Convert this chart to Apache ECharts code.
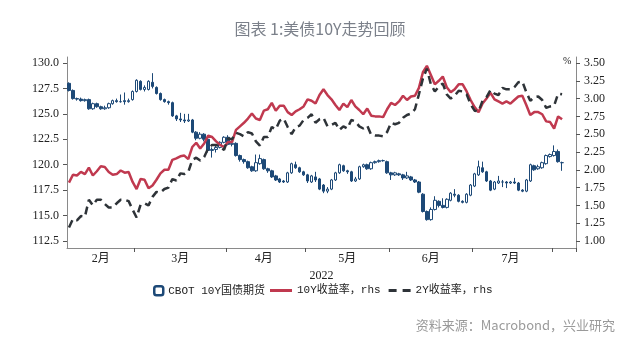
<!DOCTYPE html>
<html><head><meta charset="utf-8">
<script src="https://cdn.jsdelivr.net/npm/echarts@6/dist/echarts.min.js"></script>
<style>html,body{margin:0;padding:0;background:#fff}#c{width:640px;height:348px}</style>
</head><body><div id="c"></div><script>
// trading days (2022)
const febDays=[3,4,7,8,9,10,11,14,15,16,17,18,22,23,24,25,28];
const marDays=[1,2,3,4,7,8,9,10,11,14,15,16,17,18,21,22,23,24,25,28,29,30,31];
const aprDays=[1,4,5,6,7,8,11,12,13,14,18,19,20,21,22,25,26,27,28,29];
const mayDays=[2,3,4,5,6,9,10,11,12,13,16,17,18,19,20,23,24,25,26,27,31];
const junDays=[1,2,3,6,7,8,9,10,13,14,15,16,17,21,22,23,24,27,28,29,30];
const julDays=[1,5,6,7,8,11,12,13,14,15,18,19,20,21,22,25,26,27,28,29];
const augDays=[1,2,3,4,5,8];
const monthNames=['2月','3月','4月','5月','6月','7月','8月'];
const yearLabel='2022';

// CBOT 10Y futures OHLC
const tyOpen=[128.0,127.3,126.5,126.45,126.3,126.4,125.5,126.0,125.7,125.5,125.6,126.0,126.3,126.2,126.3,126.2,126.4,
127.2,128.2,127.4,127.4,128.1,127.6,127.0,126.4,126.2,126.1,124.8,124.5,124.4,124.3,124.4,123.2,122.6,123.0,122.5,121.4,121.5,121.7,122.2,
122.7,122.0,122.1,120.9,120.5,120.3,119.8,119.4,120.1,120.5,119.6,119.4,118.9,118.6,118.4,118.3,119.2,120.0,119.7,119.3,
119.0,118.3,118.8,118.6,118.0,117.4,117.6,118.5,119.2,119.9,119.4,119.3,118.4,118.6,119.8,120.0,119.6,120.2,120.3,120.4,120.3,
119.2,119.0,119.1,119.0,118.7,118.8,118.5,118.3,117.1,115.4,114.6,115.6,116.4,116.0,115.8,116.5,117.1,117.0,116.4,116.3,117.0,
117.9,119.0,119.7,119.3,118.4,117.6,118.2,118.3,118.3,118.2,118.3,118.2,117.5,117.4,118.4,119.9,119.6,119.7,120.1,120.8,
120.9,121.3,120.2];
const tyClose=[127.3,126.5,126.45,126.3,126.4,125.5,126.0,125.7,125.5,125.6,126.0,126.3,126.2,126.2,126.2,126.3,127.2,
128.3,127.4,127.6,128.2,127.7,127.0,126.4,126.2,126.1,124.8,124.5,124.4,124.3,124.4,123.2,122.6,123.0,122.5,121.4,121.5,121.7,122.2,122.7,
122.0,122.1,120.9,120.5,120.3,119.7,119.4,120.2,120.6,119.6,119.4,118.8,118.5,118.3,118.3,119.2,120.1,119.7,119.3,119.0,
118.4,118.9,118.5,117.6,117.4,117.6,118.5,119.2,120.0,119.4,119.3,118.4,118.6,119.8,120.0,119.6,120.2,120.3,120.4,120.4,119.2,
119.0,119.2,119.0,118.7,118.9,118.5,118.3,117.3,115.4,114.6,115.6,116.5,116.0,115.8,116.6,117.2,117.0,116.4,116.3,117.1,118.0,
119.1,119.8,119.3,118.4,117.5,118.3,118.4,118.3,118.2,118.3,118.2,117.5,117.4,118.5,120.0,119.5,119.8,120.2,120.9,121.0,
121.3,120.3,120.2];
const tyLow=[127.2,126.4,126.3,126.2,126.2,125.4,125.4,125.6,125.4,125.4,125.5,125.9,126.1,126.1,125.9,126.1,126.3,
127.1,127.3,127.2,127.3,127.5,126.9,126.3,126.1,125.9,124.7,124.3,124.2,124.1,124.2,123.1,122.4,122.5,122.3,121.2,120.7,121.2,121.6,122.1,
121.9,121.8,120.8,120.3,120.1,119.6,119.3,119.3,120.0,119.5,119.2,118.7,118.4,118.2,118.2,118.2,119.1,119.6,119.2,118.9,
118.2,118.2,118.3,117.5,117.2,117.2,117.5,118.4,119.1,119.3,119.1,118.3,118.3,118.5,119.7,119.5,119.5,120.1,120.2,120.3,119.1,
118.5,118.9,118.9,118.5,118.6,118.4,118.2,117.2,115.3,114.5,114.5,115.5,115.8,115.7,115.7,116.4,116.8,116.3,116.2,116.2,116.9,
117.8,118.9,119.2,118.3,117.4,117.5,118.1,117.8,117.7,118.1,118.1,117.4,117.3,117.3,118.3,119.4,119.5,119.6,120.0,120.7,
120.8,120.2,119.4];
const tyHigh=[128.1,127.4,126.6,126.6,126.5,126.5,126.1,126.1,125.8,125.8,126.1,126.4,126.5,126.9,127.1,126.5,127.3,
128.4,128.3,127.8,128.3,129.0,127.7,127.1,126.5,126.3,126.2,124.9,125.1,125.0,125.0,124.5,123.3,123.2,123.1,122.6,121.7,121.9,122.3,122.8,
122.9,122.3,122.2,121.0,120.6,120.4,119.9,121.0,121.0,120.6,119.7,119.5,119.0,118.7,118.5,119.3,120.2,120.3,119.8,119.4,
119.1,119.0,119.3,118.7,118.1,117.8,118.6,119.3,120.1,120.0,119.5,119.4,118.8,119.9,120.1,120.1,120.3,120.4,120.5,120.5,120.4,
119.3,119.3,119.2,119.1,119.3,118.9,118.6,118.4,117.2,115.5,115.8,116.9,116.5,116.7,116.7,117.3,117.6,117.1,116.5,117.2,118.1,
119.2,120.4,120.3,119.4,118.5,118.4,118.9,118.5,118.4,118.4,118.7,118.3,117.6,118.6,120.1,120.0,120.0,120.3,121.0,121.1,
121.9,121.5,120.3];

// yields (%)
const y10=[1.82,1.93,1.92,1.97,1.94,2.03,1.92,1.98,2.05,2.04,1.97,1.93,1.94,1.99,1.96,1.97,1.83,
1.73,1.87,1.86,1.74,1.78,1.86,1.95,2.00,2.00,2.14,2.16,2.19,2.20,2.15,2.32,2.38,2.30,2.37,2.48,2.46,2.40,2.35,2.32,
2.39,2.39,2.56,2.61,2.66,2.72,2.79,2.72,2.70,2.83,2.85,2.94,2.83,2.90,2.90,2.81,2.77,2.82,2.85,2.89,
2.99,2.97,2.93,3.05,3.13,3.05,2.99,2.91,2.84,2.93,2.88,2.98,2.89,2.84,2.78,2.86,2.76,2.75,2.75,2.74,2.85,
2.94,2.91,2.96,3.04,2.98,3.03,3.04,3.15,3.37,3.46,3.33,3.20,3.25,3.31,3.16,3.09,3.13,3.20,3.20,3.10,2.98,
2.88,2.81,2.93,3.00,3.08,2.99,2.96,2.93,2.96,2.93,2.98,3.03,3.04,2.91,2.77,2.81,2.81,2.78,2.68,2.67,
2.58,2.75,2.71];
const y2=[1.19,1.31,1.29,1.35,1.34,1.58,1.50,1.58,1.58,1.52,1.47,1.47,1.53,1.58,1.58,1.56,1.44,
1.33,1.51,1.53,1.50,1.62,1.69,1.68,1.73,1.75,1.87,1.85,1.95,1.94,1.97,2.14,2.17,2.13,2.18,2.30,2.35,2.35,2.32,2.28,
2.44,2.43,2.52,2.50,2.47,2.53,2.51,2.40,2.34,2.46,2.46,2.60,2.57,2.69,2.72,2.60,2.50,2.60,2.62,2.70,
2.73,2.78,2.66,2.71,2.73,2.61,2.63,2.66,2.56,2.61,2.58,2.70,2.68,2.61,2.58,2.62,2.49,2.48,2.48,2.47,2.53,
2.66,2.64,2.66,2.73,2.77,2.79,2.85,3.06,3.28,3.42,3.20,3.10,3.17,3.21,3.06,3.00,3.04,3.11,3.10,3.06,2.92,
2.83,2.82,2.97,3.02,3.12,3.07,3.05,3.15,3.13,3.13,3.16,3.23,3.24,3.09,2.97,3.02,3.03,2.98,2.87,2.89,
2.90,3.07,3.06];

const leftTicks=[112.5,115.0,117.5,120.0,122.5,125.0,127.5,130.0];
const rightTicks=[1.00,1.25,1.50,1.75,2.00,2.25,2.50,2.75,3.00,3.25,3.50];

const seriesNames=['CBOT 10Y国债期货','10Y收益率，rhs','2Y收益率，rhs'];
const titleText='图表 1:美债10Y走势回顾';
const sourceText='资料来源：Macrobond，兴业研究';

// build categories
const monthLists=[febDays,marDays,aprDays,mayDays,junDays,julDays,augDays];
const cats=[], catMonth=[];
monthLists.forEach((days,m)=>days.forEach(d=>{
  cats.push('2022-'+String(m+2).padStart(2,'0')+'-'+String(d).padStart(2,'0'));
  catMonth.push(m);
}));
const monthFirst={}, monthLast={};
catMonth.forEach((m,i)=>{ if(!(m in monthFirst)) monthFirst[m]=i; monthLast[m]=i; });
const labelIdx={};
for(let m=0;m<6;m++){ labelIdx[Math.floor((monthFirst[m]+monthLast[m])/2)]=monthNames[m]; }
const tickIdx=new Set(); for(let m=1;m<monthLists.length;m++) tickIdx.add(monthFirst[m]);

const candles=tyOpen.map((o,i)=>[o,tyClose[i],tyLow[i],tyHigh[i]]);

const serif='"Liberation Serif","Noto Sans CJK SC",serif';
const mono='"Liberation Mono","Noto Sans CJK SC",monospace';
const axisColor='#8a8a8a';
const navy='#1d4977';
const red='#c0394f';
const dark='#2e3338';

const chart=echarts.init(document.getElementById('c'));
chart.setOption({
  animation:false,
  backgroundColor:'#fff',
  grid:{left:67,right:64,top:57,bottom:100},
  legend:[{
    left:148, top:280, itemWidth:9, itemHeight:9, itemGap:8,
    textStyle:{fontFamily:mono,fontSize:11,color:'#222'},
    data:[{name:seriesNames[0],icon:'roundRect',itemStyle:{color:'#fff',borderColor:navy,borderWidth:2.5}}]
  },{
    left:265, top:280, itemWidth:22, itemHeight:3, itemGap:8,
    textStyle:{fontFamily:mono,fontSize:11,color:'#222'},
    data:[
      {name:seriesNames[1],icon:'rect',itemStyle:{color:red}},
      {name:seriesNames[2],icon:'path://M0,0h8v3h-8zM14,0h8v3h-8z',itemStyle:{color:dark}}
    ]
  }],
  xAxis:{
    type:'category', data:cats, boundaryGap:true,
    name:yearLabel, nameLocation:'middle', nameGap:19,
    nameTextStyle:{fontFamily:serif,fontSize:12,color:'#222'},
    axisLine:{lineStyle:{color:axisColor,width:1}},
    axisTick:{show:true,length:4,interval:(i)=>tickIdx.has(i),lineStyle:{color:'#555'}},
    axisLabel:{interval:0,formatter:(v,i)=>labelIdx[i]||'',fontFamily:serif,fontSize:12,color:'#222',margin:5},
    splitLine:{show:false}
  },
  yAxis:[{
    type:'value', position:'left', min:111.81, max:130.59,
    axisLine:{show:true,lineStyle:{color:axisColor}},
    axisTick:{show:true,length:4,customValues:leftTicks,lineStyle:{color:'#555'}},
    axisLabel:{customValues:leftTicks,formatter:v=>v.toFixed(1),fontFamily:serif,fontSize:12,color:'#222',margin:8},
    splitLine:{show:false}
  },{
    type:'value', position:'right', min:0.902, max:3.584,
    axisLine:{show:true,lineStyle:{color:axisColor}},
    axisTick:{show:true,length:4,customValues:rightTicks,lineStyle:{color:'#555'}},
    axisLabel:{customValues:rightTicks,formatter:v=>v.toFixed(2),fontFamily:serif,fontSize:12,color:'#222',margin:8},
    splitLine:{show:false}
  }],
  series:[{
    name:seriesNames[0], type:'candlestick', yAxisIndex:0, data:candles, barWidth:3,
    itemStyle:{color:'#fff',color0:navy,borderColor:navy,borderColor0:navy,borderWidth:1}
  },{
    name:seriesNames[1], type:'line', yAxisIndex:1, data:y10, symbol:'none', z:3,
    itemStyle:{color:red}, lineStyle:{color:red,width:2.5}
  },{
    name:seriesNames[2], type:'line', yAxisIndex:1, data:y2, symbol:'none', z:3,
    itemStyle:{color:dark}, lineStyle:{color:dark,width:2.5,type:[8,5]}
  }],
  graphic:[
    {type:'text',left:'center',top:21,style:{text:titleText,font:'16px "Noto Sans CJK SC",sans-serif',fill:'#7b808a'}},
    {type:'text',right:25,top:319,style:{text:sourceText,font:'13px "Noto Sans CJK SC",sans-serif',fill:'#9a9a9a'}},
    {type:'text',left:563,top:56,style:{text:'%',font:'10px "Liberation Serif",serif',fill:'#222'}}
  ]
});
</script></body></html>
